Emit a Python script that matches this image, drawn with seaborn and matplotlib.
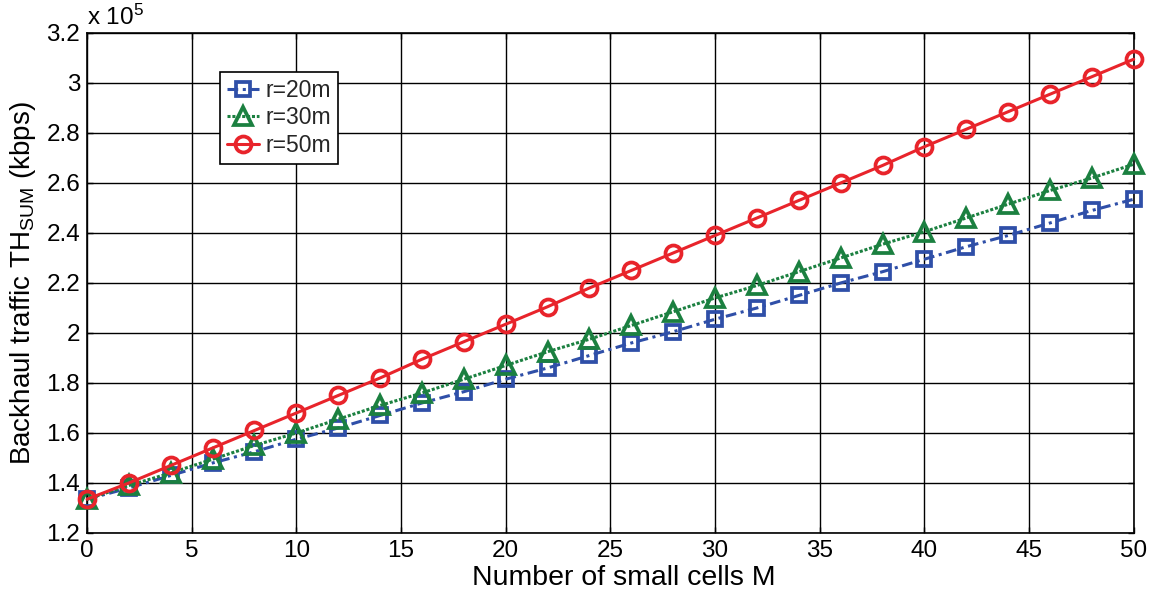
import matplotlib
matplotlib.use("Agg")
import matplotlib.pyplot as plt
import seaborn as sns
import numpy as np
import pandas as pd

# Number of small cells
cells = list(range(0, 51, 2))

# Backhaul traffic, in units of 1e5 kbps
th_r20 = [1.335, 1.38, 1.43, 1.48, 1.525, 1.575, 1.62, 1.67, 1.72, 1.765,
          1.815, 1.86, 1.91, 1.96, 2.005, 2.055, 2.10, 2.15, 2.20, 2.245,
          2.295, 2.345, 2.39, 2.44, 2.49, 2.535]
th_r30 = [1.335, 1.39, 1.44, 1.495, 1.55, 1.60, 1.655, 1.71, 1.76, 1.815,
          1.87, 1.925, 1.975, 2.03, 2.085, 2.14, 2.19, 2.245, 2.30, 2.355,
          2.405, 2.46, 2.515, 2.57, 2.62, 2.675]
th_r50 = [1.335, 1.40, 1.47, 1.54, 1.61, 1.68, 1.75, 1.82, 1.895, 1.965,
          2.035, 2.105, 2.18, 2.25, 2.32, 2.39, 2.46, 2.53, 2.60, 2.67,
          2.745, 2.815, 2.885, 2.955, 3.025, 3.095]

labels = ["r=20m", "r=30m", "r=50m"]
xticks = [0, 5, 10, 15, 20, 25, 30, 35, 40, 45, 50]
yticks = [1.2, 1.4, 1.6, 1.8, 2.0, 2.2, 2.4, 2.6, 2.8, 3.0, 3.2]
ytick_labels = ["1.2", "1.4", "1.6", "1.8", "2", "2.2", "2.4", "2.6", "2.8", "3", "3.2"]

sns.set_theme(style="white")
plt.rcParams["font.family"] = ["Liberation Sans", "DejaVu Sans"]
plt.rcParams["mathtext.fontset"] = "custom"
plt.rcParams["mathtext.rm"] = "Liberation Sans"
plt.rcParams["mathtext.it"] = "Liberation Sans"

fig = plt.figure(figsize=(11.51, 5.92), dpi=100)
ax = fig.add_axes([0.0756, 0.0997, 0.9094, 0.8446])

styles = [
    dict(color="#2F4FA8", marker="s", linestyle=(0, (3.5, 1.5, 1, 1.5)), markersize=10.5),
    dict(color="#1B8040", marker="^", linestyle=(0, (1, 0.6)), markersize=13.5),
    dict(color="#E8242B", marker="o", linestyle="-", markersize=11.5),
]
series = [th_r20, th_r30, th_r50]

for vals, lab, st in zip(series, labels, styles):
    df = pd.DataFrame({"M": cells, "TH": vals})
    sns.lineplot(data=df, x="M", y="TH", ax=ax, label=lab,
                 color=st["color"], marker=st["marker"], linestyle=st["linestyle"],
                 markersize=st["markersize"], markerfacecolor="none",
                 markeredgecolor=st["color"], markeredgewidth=2.7, linewidth=2.2,
                 clip_on=False, zorder=3)

ax.set_xlim(0, 50)
ax.set_ylim(1.2, 3.2)
ax.set_xticks(xticks)
ax.set_yticks(yticks)
ax.set_yticklabels(ytick_labels)
ax.grid(True, color="black", linewidth=1.0)
ax.tick_params(direction="in", length=4, width=1, labelsize=17.5, colors="black",
               top=True, right=True, bottom=True, left=True, pad=5)
for sp in ax.spines.values():
    sp.set_color("black")
    sp.set_linewidth(1.2)

ax.set_xlabel("Number of small cells M", fontsize=20.5, labelpad=0, color="black")
ax.xaxis.set_label_coords(0.513, -0.065)
ax.set_ylabel(r"Backhaul traffic TH$_{\mathrm{SUM}}$ (kbps)", fontsize=20,
              labelpad=6, color="black")

ax.text(0.0, 1.006, r"x 10$^{5}$", transform=ax.transAxes, fontsize=17.5,
        ha="left", va="bottom", color="black")

leg = ax.legend(loc="upper left", bbox_to_anchor=(0.127, 0.922), fontsize=16.5,
                frameon=True, fancybox=False, framealpha=1, edgecolor="black",
                handlelength=1.4, handletextpad=0.3, borderpad=0.3,
                labelspacing=0.2, borderaxespad=0)
leg.get_frame().set_linewidth(1.2)

fig.savefig("out.png", dpi=100, facecolor="white")
